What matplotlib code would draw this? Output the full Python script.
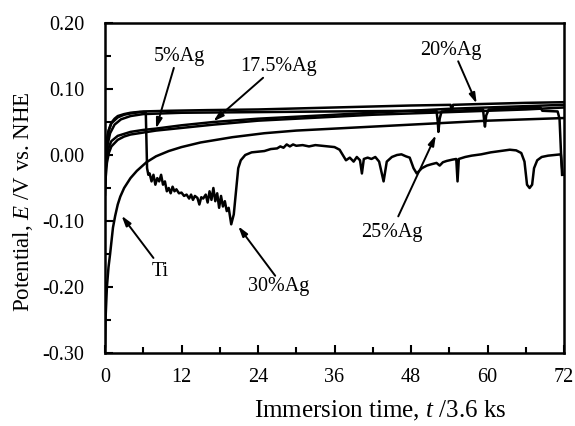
import matplotlib
matplotlib.use("Agg")
import matplotlib.pyplot as plt
from matplotlib.ticker import MultipleLocator, FixedLocator, FixedFormatter

plt.rcParams['font.family'] = ['Liberation Serif', 'DejaVu Serif']
plt.rcParams['mathtext.fontset'] = 'custom'
plt.rcParams['mathtext.rm'] = 'Liberation Serif'
plt.rcParams['mathtext.it'] = 'Liberation Serif:italic'
plt.rcParams['axes.unicode_minus'] = False

FS = 14.5
FS_LABEL = 16.5

# ---------------- data ----------------
ti_t = [0, 0.1, 0.3, 0.55, 0.8, 1.25, 1.6, 2.0, 2.4, 3.0, 4.0, 5.0, 6.5, 8, 10, 12, 15, 20, 25, 30, 36, 42, 48, 54, 60, 66, 72]
ti_E = [-0.29, -0.245, -0.2, -0.17, -0.15, -0.11, -0.092, -0.075, -0.063, -0.05, -0.035, -0.024, -0.011, -0.002, 0.006, 0.012, 0.019, 0.027, 0.033, 0.037, 0.040, 0.043, 0.046, 0.049, 0.052, 0.054, 0.056]

ag5_t = [0, 0.1, 0.3, 0.6, 1, 2, 3, 4, 6, 8, 12, 17, 24, 30, 36, 42, 48, 54, 60, 66, 72]
ag5_E = [-0.06, -0.035, -0.012, 0.003, 0.013, 0.023, 0.028, 0.031, 0.034, 0.037, 0.041, 0.046, 0.052, 0.055, 0.058, 0.061, 0.063, 0.065, 0.067, 0.069, 0.072]

ag175_t = [0, 0.1, 0.3, 0.6, 1, 2, 3, 4, 6, 8, 12, 17, 24, 30, 36, 42, 48, 54, 60, 66, 72]
ag175_E = [-0.045, -0.02, 0.0, 0.012, 0.021, 0.029, 0.032, 0.035, 0.038, 0.040, 0.045, 0.050, 0.055, 0.058, 0.061, 0.064, 0.067, 0.070, 0.072, 0.074, 0.076]

ag20_t = [0, 0.1, 0.3, 0.6, 1, 1.5, 2, 3, 4, 6, 10, 16, 24, 36, 48, 54.2, 54.4, 54.6, 58, 66, 72]
ag20_E = [-0.03, 0.0, 0.022, 0.038, 0.049, 0.055, 0.059, 0.062, 0.064, 0.066, 0.067, 0.068, 0.069, 0.072, 0.075, 0.076, 0.068, 0.076, 0.077, 0.079, 0.080]

ag25_t = [0, 0.15, 0.4, 0.8, 1.5, 2.5, 4, 6, 12, 24, 36, 48, 52.0, 52.2, 52.3, 52.5, 52.8, 59.3, 59.5, 59.6, 59.8, 60.2, 68.3, 68.6, 71.0, 71.3, 71.5, 71.7]
ag25_E = [-0.05, -0.012, 0.015, 0.033, 0.046, 0.054, 0.059, 0.062, 0.064, 0.065, 0.066, 0.067, 0.067, 0.05, 0.035, 0.055, 0.066, 0.069, 0.05, 0.043, 0.06, 0.069, 0.072, 0.067, 0.066, 0.055, 0.01, -0.03]

ag30_t = [0, 0.2, 0.5, 1, 2, 3, 4, 5.5, 6.4, 6.6, 6.8, 7.0, 7.3, 7.6, 7.9, 8.2, 8.5, 8.8, 9.1, 9.4, 9.7,
          10.0, 10.3, 10.6, 10.9, 11.2, 11.6, 12.0, 12.4, 12.8, 13.2, 13.5, 13.8, 14.1, 14.5, 14.8, 15.1,
          15.4, 15.8, 16.1, 16.4, 16.7, 17.0, 17.3, 17.6, 17.9, 18.2, 18.5, 18.8, 19.1, 19.4, 19.8, 20.2,
          20.6, 20.9, 21.3, 22, 23, 24, 25, 26, 27, 27.5, 28, 28.5, 29, 29.5, 30, 31, 32, 33, 34, 35, 36,
          36.8, 37.3, 37.8, 38.4, 39, 39.5, 40, 40.3, 40.6, 41.2, 41.8, 42.4, 43, 43.7, 44.2, 45, 45.8,
          46.5, 47.2, 47.8, 48.4, 48.9, 49.7, 50.5, 51.2, 52, 52.5, 53, 53.6, 54.5, 55.1, 55.3, 55.5,
          56.5, 57.5, 59, 60.5, 62, 63.5, 64.5, 65.3, 65.8, 66.2, 66.6, 67.0, 67.3, 67.8, 68.5, 69.5,
          70.5, 71.5, 71.8]
ag30_E = [-0.02, 0.015, 0.035, 0.048, 0.057, 0.061, 0.063, 0.065, 0.064, -0.02, -0.03, -0.028, -0.04, -0.03, -0.045, -0.035, -0.04, -0.03, -0.045, -0.04, -0.055,
          -0.05, -0.058, -0.048, -0.055, -0.052, -0.058, -0.057, -0.062, -0.06, -0.066, -0.06, -0.068, -0.062, -0.065, -0.075, -0.064,
          -0.066, -0.06, -0.072, -0.055, -0.068, -0.05, -0.07, -0.058, -0.08, -0.062, -0.078, -0.07, -0.085, -0.08, -0.105, -0.09,
          -0.05, -0.02, -0.008, 0.0, 0.004, 0.005, 0.006, 0.009, 0.01, 0.013, 0.011, 0.016, 0.013, 0.016, 0.014, 0.015, 0.013, 0.015, 0.014, 0.013, 0.012,
          0.008, 0.0, -0.008, -0.004, -0.01, -0.003, -0.008, -0.028, -0.006, -0.004, -0.006, -0.003, -0.01, -0.04, -0.01, -0.003, 0.0,
          0.001, -0.002, -0.004, -0.02, -0.028, -0.02, -0.016, -0.014, -0.012, -0.016, -0.011, -0.009, -0.007, -0.006, -0.04, -0.006,
          -0.003, -0.001, 0.001, 0.004, 0.006, 0.008, 0.007, 0.003, -0.01, -0.045, -0.05, -0.045, -0.02, -0.008, -0.003, -0.001,
          0.0, 0.001, -0.03]

series = [(ti_t, ti_E), (ag5_t, ag5_E), (ag175_t, ag175_E), (ag20_t, ag20_E), (ag25_t, ag25_E), (ag30_t, ag30_E)]

yticks = [-0.30, -0.20, -0.10, 0.00, 0.10, 0.20]
ytick_labels = ["-0.30", "-0.20", "-0.10", "0.00", "0.10", "0.20"]
xticks = [0, 12, 24, 36, 48, 60, 72]
xtick_labels = ["0", "12", "24", "36", "48", "60", "72"]

# label text, text position (t, E), arrow tip (t, E)
annotations = [
    ("5%Ag", (11.6, 0.150), (8.0, 0.040)),
    ("17.5%Ag", (27.2, 0.134), (17.0, 0.051)),
    ("20%Ag", (54.3, 0.159), (58.3, 0.078)),
    ("25%Ag", (45.0, -0.117), (51.9, 0.030)),
    ("30%Ag", (27.3, -0.200), (20.9, -0.108)),
    ("Ti", (8.6, -0.176), (2.6, -0.092)),
]
arrow_tails = [(10.8, 0.132), (24.8, 0.117), (55.4, 0.142), (46.0, -0.093), (26.7, -0.183), (7.6, -0.156)]

# ---------------- figure ----------------
fig = plt.figure(figsize=(5.75, 4.26), dpi=100)
ax = fig.add_axes([105/575, 1 - 353/426, (564-105)/575, (353-23)/426])

for t, E in series:
    ax.plot(t, E, color='black', lw=1.8, solid_joinstyle='round')

ax.set_xlim(0, 72)
ax.set_ylim(-0.30, 0.20)
ax.xaxis.set_major_locator(FixedLocator(xticks))
ax.xaxis.set_major_formatter(FixedFormatter(xtick_labels))
ax.xaxis.set_minor_locator(MultipleLocator(6))
ax.yaxis.set_major_locator(FixedLocator(yticks))
ax.yaxis.set_major_formatter(FixedFormatter(ytick_labels))
ax.yaxis.set_minor_locator(MultipleLocator(0.05))

ax.tick_params(axis='both', which='both', direction='in', top=False, right=False,
               width=1.5, labelsize=FS, colors='black')
ax.tick_params(axis='both', which='major', length=6)
ax.tick_params(axis='both', which='minor', length=4)
ax.tick_params(axis='y', which='major', pad=15)
ax.tick_params(axis='x', which='major', pad=11)
for s in ax.spines.values():
    s.set_linewidth(1.8)

ax.set_xlabel("Immersion time, $t$ /3.6 ks", fontsize=18)
ax.xaxis.set_label_coords((380-105)/459, -(399-353)/330)
ax.set_ylabel("Potential, $E$ /V vs. NHE", fontsize=FS_LABEL)
ax.yaxis.set_label_coords(-(105-35)/459, (353-202)/330)

for (txt, pos, tip), tail in zip(annotations, arrow_tails):
    ax.text(pos[0], pos[1], txt, fontsize=FS, ha='center', va='center')
    ax.annotate("", xy=tip, xytext=tail,
                arrowprops=dict(arrowstyle='-|>,head_width=0.18,head_length=0.6',
                                color='black', lw=1.4, shrinkA=0, shrinkB=0))

fig.savefig("out.png", dpi=100)
